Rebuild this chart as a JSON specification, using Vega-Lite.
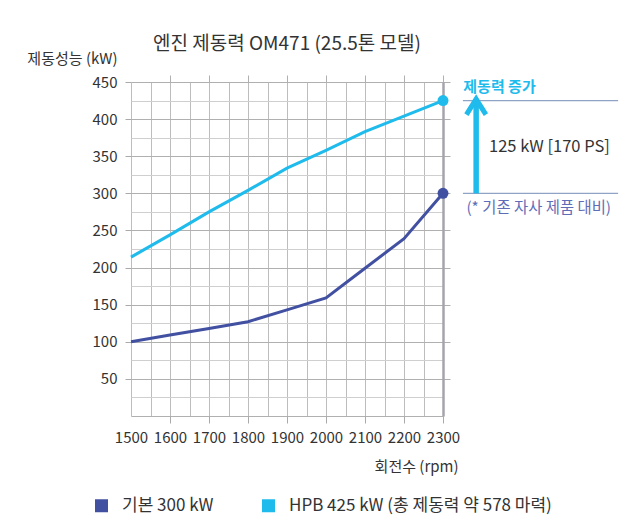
{
  "$schema": "https://vega.github.io/schema/vega-lite/v6.json",
  "width": 312,
  "height": 334,
  "autosize": {"type": "none"},
  "padding": {"left": 131, "top": 82, "right": 187, "bottom": 112},
  "background": "white",
  "config": {
    "font": "Noto Sans CJK KR",
    "view": {"stroke": null},
    "axis": {"labelFont": "Noto Sans CJK KR", "titleFont": "Noto Sans CJK KR"}
  },
  "title": {
    "text": "엔진 제동력 OM471 (25.5톤 모델)",
    "fontSize": 19,
    "fontWeight": "normal",
    "color": "#333333",
    "anchor": "middle",
    "offset": -3
  },
  "datasets": {
    "curves": [
      {"rpm": 1500, "kw": 100, "series": "기본 300 kW"},
      {"rpm": 1600, "kw": 109, "series": "기본 300 kW"},
      {"rpm": 1700, "kw": 118, "series": "기본 300 kW"},
      {"rpm": 1800, "kw": 127, "series": "기본 300 kW"},
      {"rpm": 1900, "kw": 143, "series": "기본 300 kW"},
      {"rpm": 2000, "kw": 159, "series": "기본 300 kW"},
      {"rpm": 2100, "kw": 199, "series": "기본 300 kW"},
      {"rpm": 2200, "kw": 239, "series": "기본 300 kW"},
      {"rpm": 2300, "kw": 300, "series": "기본 300 kW"},
      {"rpm": 1500, "kw": 214, "series": "HPB 425 kW (총 제동력 약 578 마력)"},
      {"rpm": 1600, "kw": 244, "series": "HPB 425 kW (총 제동력 약 578 마력)"},
      {"rpm": 1700, "kw": 275, "series": "HPB 425 kW (총 제동력 약 578 마력)"},
      {"rpm": 1800, "kw": 304, "series": "HPB 425 kW (총 제동력 약 578 마력)"},
      {"rpm": 1900, "kw": 334, "series": "HPB 425 kW (총 제동력 약 578 마력)"},
      {"rpm": 2000, "kw": 358, "series": "HPB 425 kW (총 제동력 약 578 마력)"},
      {"rpm": 2100, "kw": 383, "series": "HPB 425 kW (총 제동력 약 578 마력)"},
      {"rpm": 2200, "kw": 404, "series": "HPB 425 kW (총 제동력 약 578 마력)"},
      {"rpm": 2300, "kw": 425, "series": "HPB 425 kW (총 제동력 약 578 마력)"}
    ],
    "one": [{}]
  },
  "resolve": {"axis": {"x": "independent", "y": "independent"}, "legend": {"color": "independent"}},
  "layer": [
    {
      "data": {"name": "curves"},
      "mark": {"type": "line", "strokeWidth": 3},
      "encoding": {
        "x": {
          "field": "rpm", "type": "quantitative",
          "scale": {"domain": [1500, 2300], "nice": false, "zero": false},
          "axis": {
            "orient": "bottom",
            "values": [1500, 1550, 1600, 1650, 1700, 1750, 1800, 1850, 1900, 1950, 2000, 2050, 2100, 2150, 2200, 2250, 2300],
            "labelExpr": "datum.value % 100 === 0 ? datum.label : ''",
            "format": "d",
            "labelFontSize": 15,
            "labelColor": "#333333",
            "labelPadding": 7,
            "labelFlush": false,
            "labelOverlap": false,
            "tickSize": 7,
            "tickColor": "#aaaaaa",
            "tickOpacity": {"condition": {"test": "datum.value % 100 !== 0 || datum.value === 1500", "value": 0}, "value": 1},
            "domain": false,
            "grid": true,
            "gridColor": "#bdbdbd",
            "gridWidth": 1,
            "title": "회전수 (rpm)",
            "titleFontSize": 15,
            "titleFontWeight": "normal",
            "titleColor": "#333333",
            "titleAlign": "right",
            "titleAnchor": "end",
            "titleX": 327,
            "titleY": 50,
            "titleBaseline": "middle"
          }
        },
        "y": {
          "field": "kw", "type": "quantitative",
          "scale": {"domain": [0, 450], "nice": false},
          "axis": {
            "orient": "left",
            "values": [0, 25, 50, 75, 100, 125, 150, 175, 200, 225, 250, 275, 300, 325, 350, 375, 400, 425, 450],
            "labelExpr": "datum.value % 50 === 0 && datum.value > 0 ? datum.label : ''",
            "labelFontSize": 15,
            "labelColor": "#333333",
            "labelPadding": 8,
            "labelFlush": false,
            "labelOverlap": false,
            "tickSize": 6,
            "tickColor": "#aaaaaa",
            "tickOpacity": {"condition": {"test": "datum.value % 50 !== 0 || datum.value === 0", "value": 0}, "value": 1},
            "domain": false,
            "grid": true,
            "gridColor": {"condition": {"test": "datum.value % 50 === 0", "value": "#b0b0b0"}, "value": "#cfcfcf"},
            "gridWidth": 1,
            "title": "제동성능 (kW)",
            "titleAngle": 0,
            "titleFontSize": 15,
            "titleFontWeight": "normal",
            "titleColor": "#333333",
            "titleAlign": "right",
            "titleX": -14,
            "titleY": -24,
            "titleBaseline": "middle"
          }
        },
        "color": {
          "field": "series", "type": "nominal",
          "scale": {"domain": ["기본 300 kW", "HPB 425 kW (총 제동력 약 578 마력)"], "range": ["#4250a2", "#1ebbec"]},
          "legend": null
        }
      }
    },
    {
      "data": {"name": "curves"},
      "transform": [{"filter": "datum.rpm === 2300"}],
      "mark": {"type": "point", "filled": true, "size": 120, "opacity": 1},
      "encoding": {
        "x": {
          "field": "rpm", "type": "quantitative",
          "axis": {
            "orient": "top",
            "values": [1600, 1700, 1800, 1900, 2000, 2100, 2200, 2300],
            "labels": false,
            "tickSize": 7,
            "tickColor": "#b0b0b0",
            "domain": false,
            "grid": false,
            "title": null
          }
        },
        "y": {
          "field": "kw", "type": "quantitative",
          "axis": {
            "orient": "right",
            "values": [50, 100, 150, 200, 250, 300, 350, 400, 450],
            "labels": false,
            "tickSize": 7,
            "tickColor": "#b0b0b0",
            "domain": true,
            "domainColor": "#a4a4ac",
            "domainWidth": 2.5,
            "grid": false,
            "title": null
          }
        },
        "color": {
          "field": "series", "type": "nominal",
          "legend": {
            "orient": "none",
            "legendX": -38,
            "legendY": 415,
            "direction": "horizontal",
            "title": null,
            "symbolType": "square",
            "symbolSize": 169,
            "symbolStrokeWidth": 0,
            "labelFontSize": 17,
            "labelColor": "#333333",
            "labelLimit": 400,
            "labelOffset": 12,
            "columnPadding": 46
          }
        }
      }
    },
    {
      "data": {"name": "one"},
      "mark": {"type": "rule", "color": "#8fa3c6", "strokeWidth": 1.2},
      "encoding": {
        "x": {"datum": 2351, "type": "quantitative", "axis": null},
        "x2": {"datum": 2749},
        "y": {"datum": 425, "type": "quantitative", "axis": null}
      }
    },
    {
      "data": {"name": "one"},
      "mark": {"type": "rule", "color": "#8fa3c6", "strokeWidth": 1.2},
      "encoding": {
        "x": {"datum": 2351, "type": "quantitative", "axis": null},
        "x2": {"datum": 2749},
        "y": {"datum": 300, "type": "quantitative", "axis": null}
      }
    },
    {
      "data": {"name": "one"},
      "mark": {"type": "rule", "color": "#1ebbec", "strokeWidth": 5.5},
      "encoding": {
        "x": {"datum": 2385, "type": "quantitative", "axis": null},
        "y": {"datum": 300, "type": "quantitative", "axis": null},
        "y2": {"datum": 426}
      }
    },
    {
      "data": {"name": "one"},
      "mark": {"type": "point", "shape": "M-1,1.6L0,0L1,1.6", "filled": false, "stroke": "#1ebbec", "strokeWidth": 5, "size": 380, "opacity": 1, "strokeCap": "butt", "strokeJoin": "miter"},
      "encoding": {
        "x": {"datum": 2385, "type": "quantitative", "axis": null},
        "y": {"datum": 427, "type": "quantitative", "axis": null}
      }
    },
    {
      "data": {"name": "one"},
      "mark": {"type": "text", "text": "제동력 증가", "align": "left", "baseline": "middle", "font": "Noto Sans CJK KR", "fontSize": 15, "fontWeight": "bold", "fill": "#1ebbec"},
      "encoding": {
        "x": {"datum": 2352, "type": "quantitative", "axis": null},
        "y": {"datum": 443, "type": "quantitative", "axis": null}
      }
    },
    {
      "data": {"name": "one"},
      "mark": {"type": "text", "text": "125 kW [170 PS]", "align": "left", "baseline": "middle", "font": "Noto Sans CJK KR", "fontSize": 16.5, "fontWeight": "normal", "fill": "#333333"},
      "encoding": {
        "x": {"datum": 2418, "type": "quantitative", "axis": null},
        "y": {"datum": 362, "type": "quantitative", "axis": null}
      }
    },
    {
      "data": {"name": "one"},
      "mark": {"type": "text", "text": "(* 기존 자사 제품 대비)", "align": "left", "baseline": "middle", "font": "Noto Sans CJK KR", "fontSize": 15.4, "fontWeight": "normal", "fill": "#5f6db8"},
      "encoding": {
        "x": {"datum": 2360, "type": "quantitative", "axis": null},
        "y": {"datum": 280, "type": "quantitative", "axis": null}
      }
    }
  ]
}
